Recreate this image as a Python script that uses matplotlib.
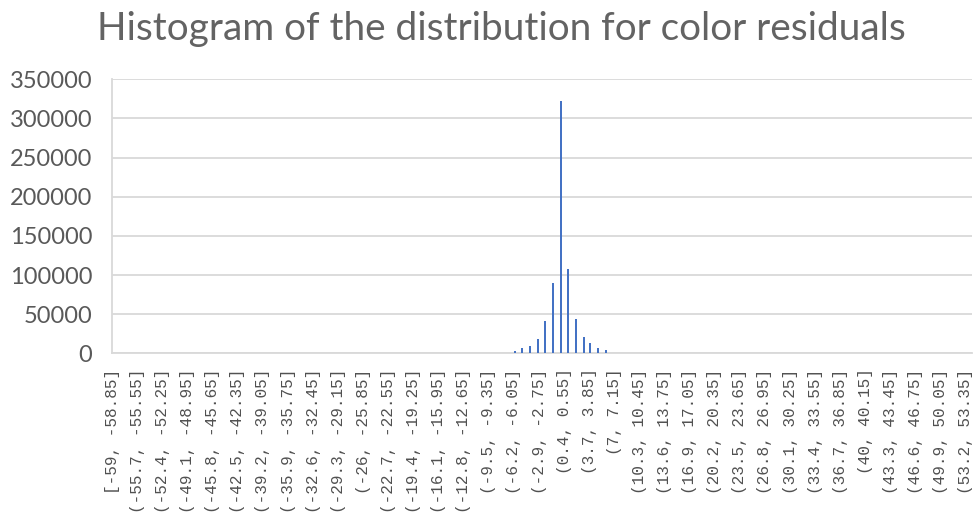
import numpy as np
import matplotlib
matplotlib.use('Agg')
import matplotlib.pyplot as plt

# Integer colour residuals and how often each one occurs
residuals = [-6, -5, -4, -3, -2, -1, 0, 1, 2, 3, 4, 5, 6]
counts = [3400, 7300, 9800, 18300, 41300, 90300, 322700, 107300, 44300, 21300, 12800, 7300, 3800]

# Excel style bins: [-59, -58.85], (-58.85, -58.7], ...
bin_start = -59
bin_width = 0.15
n_bins = 754
label_every = 22

bin_labels = ['[-59, -58.85]', '(-55.7, -55.55]', '(-52.4, -52.25]', '(-49.1, -48.95]',
              '(-45.8, -45.65]', '(-42.5, -42.35]', '(-39.2, -39.05]', '(-35.9, -35.75]',
              '(-32.6, -32.45]', '(-29.3, -29.15]', '(-26, -25.85]', '(-22.7, -22.55]',
              '(-19.4, -19.25]', '(-16.1, -15.95]', '(-12.8, -12.65]', '(-9.5, -9.35]',
              '(-6.2, -6.05]', '(-2.9, -2.75]', '(0.4, 0.55]', '(3.7, 3.85]',
              '(7, 7.15]', '(10.3, 10.45]', '(13.6, 13.75]', '(16.9, 17.05]',
              '(20.2, 20.35]', '(23.5, 23.65]', '(26.8, 26.95]', '(30.1, 30.25]',
              '(33.4, 33.55]', '(36.7, 36.85]', '(40, 40.15]', '(43.3, 43.45]',
              '(46.6, 46.75]', '(49.9, 50.05]', '(53.2, 53.35]']

# put each residual into its bin
bin_counts = np.zeros(n_bins)
for v, c in zip(residuals, counts):
    k = max(int(np.ceil((v - bin_start) / bin_width)) - 1, 0)
    bin_counts[k] += c

text_color = '#595959'
grid_color = '#D9D9D9'

fig = plt.figure(figsize=(9.75, 5.28), dpi=100)
ax = fig.add_axes([0.1146, 0.3309, 0.8824, 0.5189])

ax.bar(np.arange(n_bins), bin_counts, width=1.8, color='#4472C4', zorder=3)

ax.set_xlim(-0.5, n_bins - 0.5)
ax.set_ylim(0, 350000)
ax.set_yticks(np.arange(0, 350001, 50000))
ax.yaxis.grid(True, color=grid_color, linewidth=1.3, zorder=0)
ax.set_axisbelow(True)

ax.set_xticks(np.arange(len(bin_labels)) * label_every)
ax.set_xticklabels(bin_labels, rotation=90, va='top', ha='center',
                   family='Liberation Mono', fontsize=11.6, color='#505050')
for lab in ax.get_yticklabels():
    lab.set_family('Lato')
    lab.set_fontsize(17)
    lab.set_color(text_color)

ax.tick_params(axis='both', length=0)
ax.tick_params(axis='y', pad=14)
ax.tick_params(axis='x', pad=11)

for s in ['top', 'right']:
    ax.spines[s].set_visible(False)
for s in ['left', 'bottom']:
    ax.spines[s].set_color(grid_color)
    ax.spines[s].set_linewidth(1.3)

fig.text(0.514, 0.945, 'Histogram of the distribution for color residuals',
         ha='center', va='center', family='Lato',
         fontsize=27.9, color='#636363')

fig.savefig('out.png', dpi=100)
